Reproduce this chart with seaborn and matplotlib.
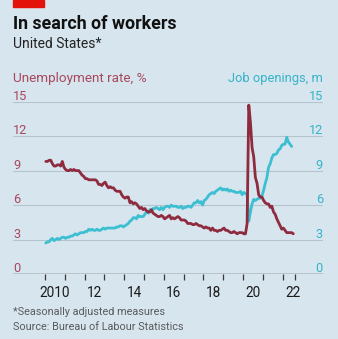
import matplotlib
matplotlib.use("Agg")
import matplotlib.pyplot as plt
import matplotlib.transforms as mtransforms
import numpy as np
import pandas as pd
import seaborn as sns

# ---- data (monthly) ----
unemployment = [
    9.8, 9.8, 9.9, 9.9, 9.6, 9.4, 9.4, 9.5, 9.5, 9.4, 9.8, 9.3,   # 2010
    9.1, 9.0, 9.0, 9.1, 9.0, 9.1, 9.0, 9.0, 9.0, 8.8, 8.6, 8.5,   # 2011
    8.3, 8.3, 8.2, 8.2, 8.2, 8.2, 8.2, 8.1, 7.8, 7.8, 7.7, 7.9,   # 2012
    8.0, 7.7, 7.5, 7.6, 7.5, 7.5, 7.3, 7.2, 7.2, 7.2, 6.9, 6.7,   # 2013
    6.6, 6.7, 6.7, 6.2, 6.3, 6.1, 6.2, 6.1, 5.9, 5.7, 5.8, 5.6,   # 2014
    5.7, 5.5, 5.4, 5.4, 5.6, 5.3, 5.2, 5.1, 5.0, 5.0, 5.1, 5.0,   # 2015
    4.8, 4.9, 5.0, 5.1, 4.8, 4.9, 4.8, 4.9, 5.0, 4.9, 4.7, 4.7,   # 2016
    4.7, 4.6, 4.4, 4.4, 4.4, 4.3, 4.3, 4.4, 4.3, 4.2, 4.2, 4.1,   # 2017
    4.0, 4.1, 4.0, 4.0, 3.8, 4.0, 3.8, 3.8, 3.7, 3.8, 3.8, 3.9,   # 2018
    4.0, 3.8, 3.8, 3.7, 3.6, 3.6, 3.7, 3.6, 3.5, 3.6, 3.6, 3.6,   # 2019
    3.5, 3.5, 4.4, 14.7, 13.2, 11.0, 10.2, 8.4, 7.9, 6.9, 6.7, 6.7,  # 2020
    6.4, 6.2, 6.1, 6.1, 5.8, 5.9, 5.4, 5.2, 4.8, 4.5, 4.2, 3.9,   # 2021
    4.0, 3.8, 3.6, 3.6, 3.6, 3.6, 3.5,                            # 2022
]
job_openings = [
    2.7, 2.8, 2.8, 3.0, 3.1, 2.9, 3.0, 3.1, 3.0, 3.1, 3.2, 3.2,   # 2010
    3.1, 3.2, 3.2, 3.3, 3.3, 3.4, 3.5, 3.4, 3.5, 3.6, 3.6, 3.6,   # 2011
    3.7, 3.7, 3.9, 3.8, 3.9, 3.8, 3.8, 3.9, 3.8, 3.8, 3.9, 4.0,   # 2012
    3.9, 4.0, 4.0, 4.0, 4.0, 4.0, 4.0, 4.1, 4.1, 4.2, 4.2, 4.1,   # 2013
    4.2, 4.3, 4.4, 4.6, 4.7, 4.9, 4.9, 4.8, 5.1, 5.0, 5.0, 5.0,   # 2014
    5.2, 5.4, 5.3, 5.6, 5.5, 5.7, 5.7, 5.8, 5.7, 5.6, 5.8, 5.6,   # 2015
    5.8, 5.9, 5.9, 5.8, 6.0, 5.9, 5.9, 5.9, 5.8, 5.8, 5.9, 5.7,   # 2016
    5.8, 5.8, 5.9, 5.9, 5.8, 6.0, 6.2, 6.2, 6.4, 6.2, 6.3, 6.0,   # 2017
    6.4, 6.5, 6.7, 6.9, 7.0, 7.1, 7.0, 7.2, 7.3, 7.4, 7.5, 7.3,   # 2018
    7.4, 7.3, 7.4, 7.2, 7.3, 7.2, 7.2, 7.1, 7.1, 7.1, 7.2, 6.9,   # 2019
    7.1, 7.0, 6.9, 4.6, 5.4, 6.1, 6.5, 6.4, 6.5, 6.6, 6.6, 6.8,   # 2020
    7.3, 7.9, 8.4, 9.3, 9.6, 10.1, 10.4, 10.4, 10.5, 10.8, 10.9, 11.2,  # 2021
    11.3, 11.3, 11.9, 11.5, 11.3, 11.1,                           # 2022
]
start_year = 2010
year_labels = ["2010", "12", "14", "16", "18", "20", "22"]
y_ticks = [0, 3, 6, 9, 12, 15]

# ---- styling ----
BG = "#d7e5ee"
RED = "#8f2b3f"
RED_TXT = "#a8485c"
CYAN = "#3dbfd2"
CYAN_TXT = "#36b3c8"
GRID = "#b3c4cd"
FAMILY = ["Roboto", "DejaVu Sans"]

sns.set_theme(style="white")
plt.rcParams["font.family"] = FAMILY
plt.rcParams["xtick.bottom"] = True
plt.rcParams["xtick.major.size"] = 4.5
plt.rcParams["xtick.major.width"] = 0.9
plt.rcParams["xtick.color"] = "#3a3a3a"

W, H = 338, 339
fig = plt.figure(figsize=(W / 100, H / 100), dpi=100, facecolor=BG)

def px(x, y):
    return x / W, 1 - y / H

left, right, top, bottom = 13.3, 323, 101.7, 274
ax = fig.add_axes([left / W, 1 - bottom / H, (right - left) / W, (bottom - top) / H])
ax.set_facecolor(BG)

def to_df(vals, name):
    t = start_year + (np.arange(len(vals)) + 0.5) / 12
    return pd.DataFrame({"t": t, "v": vals, "series": name})

df_u = to_df(unemployment, "Unemployment rate")
df_j = to_df(job_openings, "Job openings")

for yv in y_ticks[1:]:
    ax.axhline(yv, color=GRID, lw=0.8, zorder=1)
ax.axhline(0, color="#3a3a3a", lw=1.0, zorder=3)

sns.lineplot(data=df_j, x="t", y="v", color=CYAN, lw=2.0, ax=ax, zorder=4,
             legend=False)
sns.lineplot(data=df_u, x="t", y="v", color=RED, lw=2.0, ax=ax, zorder=5,
             legend=False)

ax.set_xlim(2008.4, 2024.04)
ax.set_ylim(0, 15)

for s in ax.spines.values():
    s.set_visible(False)
ax.set_xlabel("")
ax.set_ylabel("")
ax.set_yticks([])

major = list(range(2010, 2023)) + [2022.62]
ax.set_xticks(major)
ax.set_xticklabels([""] * len(major))
ax.xaxis.set_ticks_position("bottom")
ax.tick_params(axis="x", which="major", bottom=True, length=4.5, width=0.9,
               color="#3a3a3a", direction="out")
minor = [int(("20" + l) if len(l) == 2 else l) + 0.5 for l in year_labels]
ax.set_xticks(minor, minor=True)
ax.set_xticklabels(year_labels, minor=True, fontsize=9.8, color="#1a1a1a",
                   family=FAMILY)
ax.tick_params(axis="x", which="minor", length=0, pad=8.5)

# y labels above gridlines
tr = mtransforms.offset_copy(ax.get_yaxis_transform(), fig=fig, x=0, y=1.2, units="points")
for yv in y_ticks:
    ax.text(0, yv, str(yv), transform=tr, ha="left", va="baseline",
            fontsize=9.2, color=RED_TXT)
    ax.text(1, yv, str(yv), transform=tr, ha="right", va="baseline",
            fontsize=9.2, color=CYAN_TXT)

# header and footer
fig.patches.append(plt.Rectangle(px(13, 7), 31 / W, 7 / H, transform=fig.transFigure,
                                 color="#e3120b", zorder=10))
fig.text(*px(13, 29.3), "In search of workers", fontsize=12.8, fontweight="bold",
         color="#111111", va="baseline", ha="left")
fig.text(*px(13, 48.3), "United States*", fontsize=10.0, color="#222222",
         va="baseline", ha="left")
fig.text(*px(13, 81.7), "Unemployment rate, %", fontsize=9.7, color=RED_TXT,
         va="baseline", ha="left")
fig.text(*px(323, 81.7), "Job openings, m", fontsize=9.3, color=CYAN_TXT,
         va="baseline", ha="right")
fig.text(*px(13, 315), "*Seasonally adjusted measures", fontsize=7.8,
         color="#5a5a5a", va="baseline", ha="left")
fig.text(*px(13, 330), "Source: Bureau of Labour Statistics", fontsize=7.8,
         color="#5a5a5a", va="baseline", ha="left")

fig.savefig("out.png", dpi=100, facecolor=BG)
